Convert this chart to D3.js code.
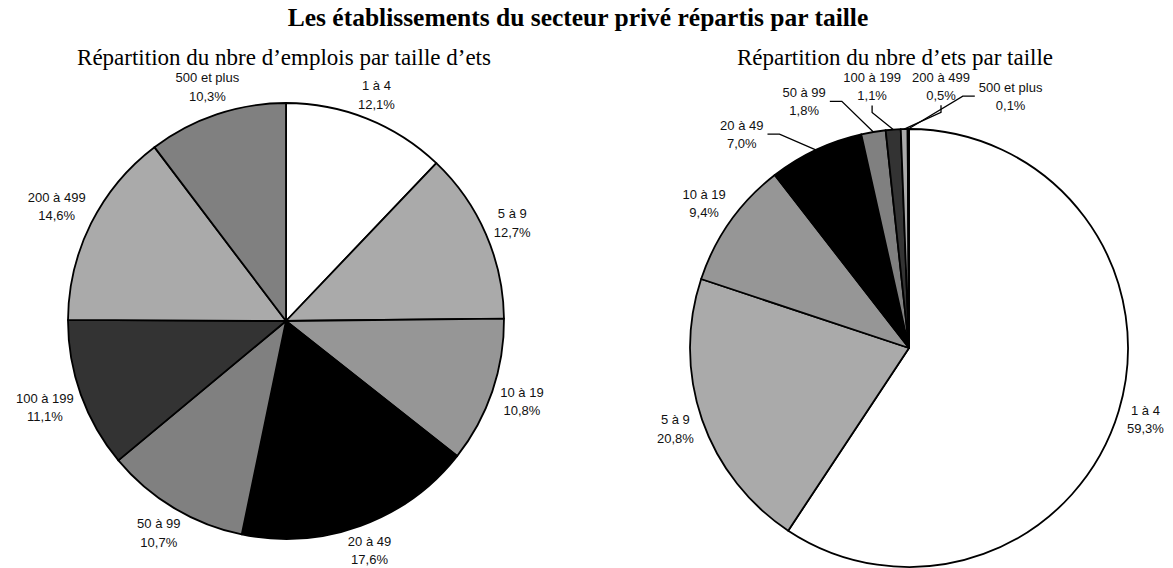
<!DOCTYPE html>
<meta charset="utf-8">
<style>
  body { margin: 0; background: #fff; }
</style>

<svg width="1173" height="568"></svg>

<script src="https://d3js.org/d3.v7.min.js"></script>
<script>
var chartTitle = "Les établissements du secteur privé répartis par taille"
var categories = ["1 à 4", "5 à 9", "10 à 19", "20 à 49", "50 à 99", "100 à 199", "200 à 499", "500 et plus"]

// % du nombre d'emplois par taille d'établissement
var emploisTitle = "Répartition du nbre d’emplois par taille d’ets"
var emploisPct = [12.1, 12.7, 10.8, 17.6, 10.7, 11.1, 14.6, 10.3]

// % du nombre d'établissements par taille
var etsTitle = "Répartition du nbre d’ets par taille"
var etsPct = [59.3, 20.8, 9.4, 7.0, 1.8, 1.1, 0.5, 0.1]

var svg = d3.select('svg')

var color = d3.scaleOrdinal()
  .domain(categories)
  .range(['#ffffff', '#aaaaaa', '#969696', '#000000', '#808080', '#333333', '#aaaaaa', '#808080'])

var fmt = function (v) { return d3.format('.1f')(v).replace('.', ',') + '%' }

svg.append('text')
  .attr('x', 578)
  .attr('y', 26)
  .attr('text-anchor', 'middle')
  .attr('font-family', 'Liberation Serif')
  .attr('font-weight', 'bold')
  .attr('font-size', 25.5)
  .text(chartTitle)

function drawPie(values, title, cx, cy, r, titleX) {
  svg.append('text')
    .attr('x', titleX)
    .attr('y', 65)
    .attr('text-anchor', 'middle')
    .attr('font-family', 'Liberation Serif')
    .attr('font-size', 23)
    .text(title)

  var data = categories.map(function (c, i) { return { label: c, value: values[i] } })
  var arcs = d3.pie().sort(null).value(function (d) { return d.value })(data)
  var arc = d3.arc().innerRadius(0).outerRadius(r)

  var g = svg.append('g').attr('transform', 'translate(' + cx + ',' + cy + ')')

  g.selectAll('path.slice')
    .data(arcs)
    .enter().append('path')
    .attr('class', 'slice')
    .attr('d', arc)
    .attr('fill', function (d) { return color(d.data.label) })
    .attr('stroke', '#000')
    .attr('stroke-width', 1.8)
    .attr('stroke-linejoin', 'round')

  // labels: measure first, then spread the angles so they don't overlap
  var lineH = 18.5
  var boxH = 30
  var labels = g.selectAll('text.lab')
    .data(arcs)
    .enter().append('text')
    .attr('class', 'lab')
    .attr('text-anchor', 'middle')
    .attr('font-family', 'Liberation Sans')
    .attr('font-size', 13)
    .attr('fill', '#111')

  labels.append('tspan').attr('x', 0).attr('dy', 0).text(function (d) { return d.data.label })
  labels.append('tspan').attr('x', 0).attr('dy', lineH).text(function (d) { return fmt(d.data.value) })

  var info = arcs.map(function (d, i) {
    var w = 0
    d3.select(labels.nodes()[i]).selectAll('tspan').each(function () {
      w = Math.max(w, this.getComputedTextLength())
    })
    return {
      mid: (d.startAngle + d.endAngle) / 2,
      ang: (d.startAngle + d.endAngle) / 2,
      w: w + 4,
      small: (d.endAngle - d.startAngle) < 0.08 * 2 * Math.PI
    }
  })

  var minGap = 15 * Math.PI / 180
  for (var k = 0; k < 400; k++) {
    for (var i = 0; i < info.length - 1; i++) {
      var diff = info[i + 1].ang - info[i].ang
      if (diff < minGap) {
        var s = (minGap - diff) / 2
        info[i].ang -= s
        info[i + 1].ang += s
      }
    }
  }

  info.forEach(function (o) {
    var sa = Math.sin(o.ang), ca = Math.cos(o.ang)
    var ext = Math.abs(sa) * o.w / 2 + Math.abs(ca) * boxH / 2
    var R = r + (o.small ? 26 : 4) + ext
    o.x = R * sa
    o.y = -R * ca
  })

  labels.attr('transform', function (d, i) {
    return 'translate(' + info[i].x + ',' + (info[i].y - 4.5) + ')'
  })

  // leader lines for the thin slices
  info.forEach(function (o) {
    if (!o.small) return
    var px = r * Math.sin(o.mid), py = -r * Math.cos(o.mid)
    var dx = px - o.x, dy = py - o.y
    var pts
    if (Math.abs(dx) - o.w / 2 > Math.abs(dy) - boxH / 2) {
      var side = dx > 0 ? 1 : -1
      var sx = o.x + side * (o.w / 2 + 2)
      pts = [[sx, o.y], [sx + side * 12, o.y], [px, py]]
    } else {
      var vs = dy > 0 ? 1 : -1
      var sy = o.y + vs * (boxH / 2 + 4)
      pts = [[o.x, sy], [o.x, sy + vs * 7], [px, py]]
    }
    g.append('path')
      .attr('d', d3.line()(pts))
      .attr('fill', 'none')
      .attr('stroke', '#000')
      .attr('stroke-width', 1.3)
  })
}

drawPie(emploisPct, emploisTitle, 286, 321, 218, 284)
drawPie(etsPct, etsTitle, 909, 348, 219, 895)
</script>
